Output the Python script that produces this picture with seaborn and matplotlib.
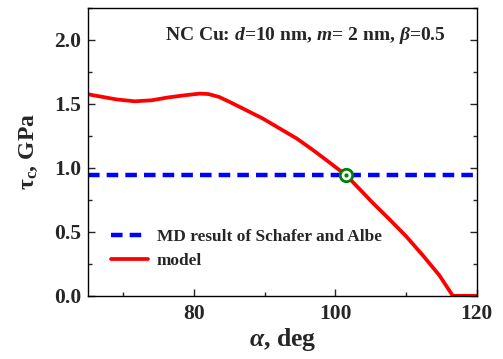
import matplotlib
matplotlib.use("Agg")
import matplotlib.pyplot as plt
import seaborn as sns
import pandas as pd
from matplotlib.ticker import MultipleLocator

# Data
alpha_deg = [65, 67, 69, 71.6, 74, 76.3, 78.8, 80.8, 82.0, 83.5, 85.0, 87.4, 89.7, 92.1, 94.5,
             96.8, 99.2, 101.5, 103.4, 105.3, 107.6, 110, 112.3, 114.7, 116.6, 118, 120]
tau_model = [1.575, 1.555, 1.535, 1.52, 1.528, 1.55, 1.568, 1.58, 1.577, 1.555, 1.516, 1.45, 1.386,
             1.308, 1.23, 1.14, 1.04, 0.943, 0.835, 0.725, 0.60, 0.465, 0.32, 0.16, 0.0, 0.0, 0.0]
md_alpha = [65, 120]
md_tau = [0.943, 0.943]
cross_alpha = [101.5]
cross_tau = [0.943]

sns.set_style("ticks")
plt.rcParams['font.family'] = ['Liberation Serif', 'DejaVu Serif']
plt.rcParams['mathtext.fontset'] = 'custom'
plt.rcParams['mathtext.rm'] = 'Liberation Serif:bold'
plt.rcParams['mathtext.it'] = 'Liberation Serif:bold:italic'
plt.rcParams['mathtext.bf'] = 'Liberation Serif:bold'

fig = plt.figure(figsize=(5.03, 3.59), dpi=100)
ax = fig.add_axes([0.175, 0.176, 0.773, 0.802])

df_md = pd.DataFrame({"alpha": md_alpha, "tau": md_tau})
df_model = pd.DataFrame({"alpha": alpha_deg, "tau": tau_model})

sns.lineplot(data=df_md, x="alpha", y="tau", ax=ax, color="#0000ff", lw=3.2,
             linestyle=(0, (2.6, 1.6)), label="MD result of Schafer and Albe")
sns.lineplot(data=df_model, x="alpha", y="tau", ax=ax, color="#ff0000", lw=2.7,
             label="model", sort=False, solid_joinstyle="round", solid_capstyle="round")
ax.scatter(cross_alpha, cross_tau, s=80, facecolors="white", edgecolors="#008000",
           linewidths=2.0, zorder=5)
ax.scatter(cross_alpha, cross_tau, s=4, color="#008000", zorder=6)

ax.set_xlim(65, 120)
ax.set_ylim(0, 2.25)
ax.xaxis.set_major_locator(MultipleLocator(20))
ax.xaxis.set_minor_locator(MultipleLocator(10))
ax.yaxis.set_major_locator(MultipleLocator(0.5))
ax.yaxis.set_minor_locator(MultipleLocator(0.25))
ax.tick_params(which="both", direction="in", right=True, top=False, width=1.0)
ax.tick_params(which="major", length=5)
ax.tick_params(which="minor", length=3)
for lab in ax.get_xticklabels() + ax.get_yticklabels():
    lab.set_fontweight("bold")
    lab.set_fontsize(15.5)
ax.tick_params(axis="x", pad=6)
ax.tick_params(axis="y", pad=5)
for s in ax.spines.values():
    s.set_linewidth(1.0)
    s.set_color("black")

ax.set_xlabel(r"$\alpha$, deg", fontsize=18.5, fontweight="bold", labelpad=1)
ax.set_ylabel(r"$\mathbf{\tau}_{\mathbf{c}}$, GPa", fontsize=17, fontweight="bold", labelpad=10)

ax.text(0.56, 0.905, r"NC Cu: $d$=10 nm, $m$= 2 nm, $\beta$=0.5", transform=ax.transAxes,
        ha="center", va="center", fontsize=14, fontweight="bold")

leg = ax.legend(loc="lower left", bbox_to_anchor=(0.018, 0.04), frameon=False,
                prop={"weight": "bold", "size": 12.4}, handlelength=2.2,
                handletextpad=0.5, labelspacing=0.45)

fig.savefig("out.png", dpi=100)
